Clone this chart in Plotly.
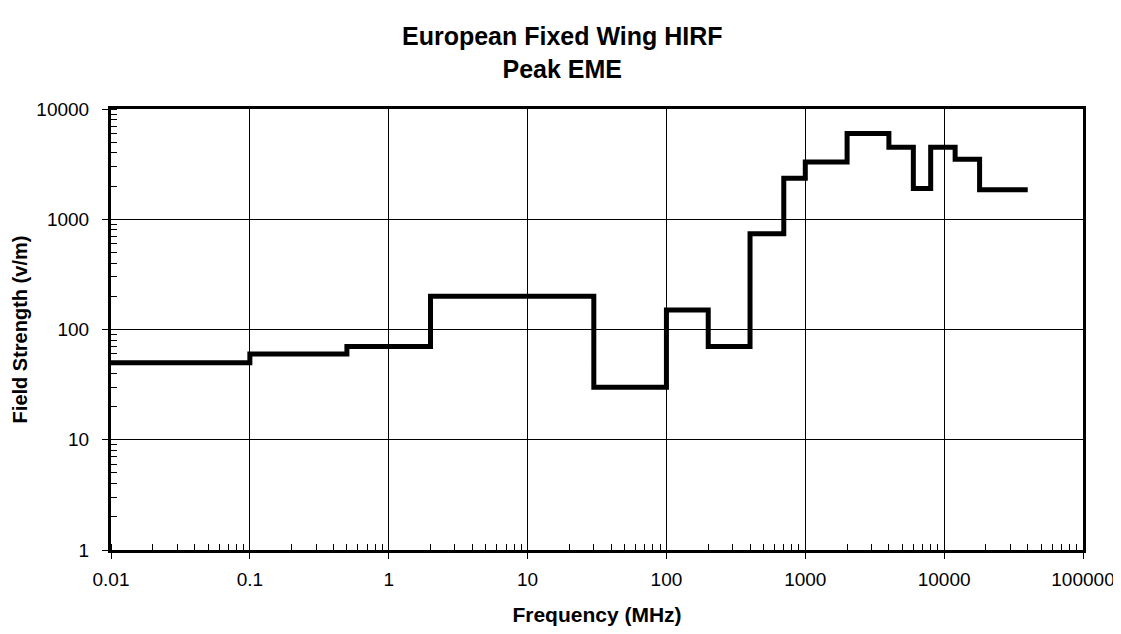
import plotly.graph_objects as go

# Band edges (MHz) and peak field strength (V/m) per band
band_edges = [0.01, 0.1, 0.5, 2, 30, 100, 200, 400, 700, 1000, 2000, 4000, 6000, 8000, 12000, 18000, 40000]
field_strength = [50, 60, 70, 200, 30, 150, 70, 740, 2350, 3300, 6000, 4500, 1900, 4500, 3500, 1850]

x_tickvals = [0.01, 0.1, 1, 10, 100, 1000, 10000, 100000]
x_ticktext = ["0.01", "0.1", "1", "10", "100", "1000", "10000", "100000"]
y_tickvals = [1, 10, 100, 1000, 10000]
y_ticktext = ["1", "10", "100", "1000", "10000"]

xs = band_edges
ys = field_strength + [field_strength[-1]]

fig = go.Figure()
fig.add_trace(go.Scatter(x=xs, y=ys, mode="lines", line=dict(shape="hv", color="black", width=5),
                         showlegend=False, hoverinfo="x+y"))

font_family = "Liberation Sans, Arial, sans-serif"
fig.update_layout(
    width=1113, height=618,
    paper_bgcolor="white", plot_bgcolor="white",
    margin=dict(l=103, r=38, t=101, b=76, autoexpand=False),
    font=dict(family=font_family, color="black", size=19),
    title=dict(text="<b>European Fixed Wing HIRF<br>Peak EME</b>", x=0.498, xanchor="center",
               xref="container", y=0.94, yanchor="top", yref="container", font=dict(size=25)),
)
fig.update_xaxes(
    type="log", range=[-2, 5], automargin=False,
    tickvals=x_tickvals, ticktext=x_ticktext,
    ticks="outside", ticklen=6, tickcolor="black", ticklabelstandoff=4,
    showgrid=True, gridcolor="black", gridwidth=1,
    showline=True, linecolor="black", linewidth=3, mirror=True,
    minor=dict(ticks="inside", ticklen=6, tickcolor="black", dtick="D1", showgrid=False),
    title=dict(text="<b>Frequency (MHz)</b>", standoff=29, font=dict(size=21)),
    zeroline=False,
)
fig.update_yaxes(
    type="log", range=[0, 4], automargin=False,
    tickvals=y_tickvals, ticktext=y_ticktext,
    ticks="outside", ticklen=6, tickcolor="black", ticklabelstandoff=9,
    showgrid=True, gridcolor="black", gridwidth=1,
    showline=True, linecolor="black", linewidth=3, mirror=True,
    minor=dict(ticks="inside", ticklen=6, tickcolor="black", dtick="D1", showgrid=False),
    title=dict(text="<b>Field Strength (v/m)</b>", standoff=4, font=dict(size=20)),
    zeroline=False,
)

fig.write_html("out.html")
